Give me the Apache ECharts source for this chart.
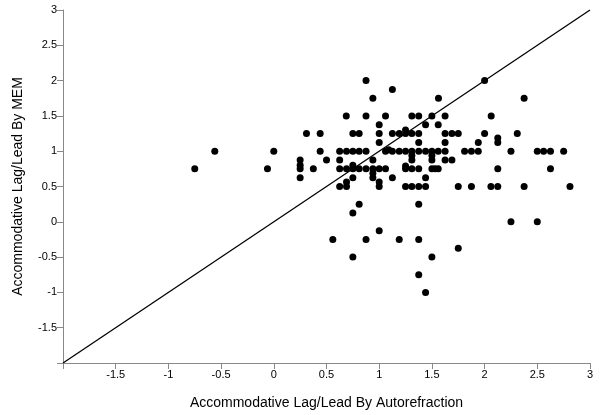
<!DOCTYPE html>
<html>
<head>
<meta charset="utf-8">
<title>Accommodative Lag/Lead</title>
<script src="https://cdn.jsdelivr.net/npm/echarts@6/dist/echarts.min.js"></script>
<style>
  html, body { margin: 0; padding: 0; background: #fff; }
  #main { width: 600px; height: 415px; }
</style>
</head>
<body>
<div id="main"></div>
<script>
// [autorefraction, MEM]
var points = [
  [0.875, 2], [2, 2],
  [1.125, 1.875],
  [0.94, 1.75], [1.5625, 1.75], [2.375, 1.75],
  [0.6875, 1.5], [0.875, 1.5], [1.06, 1.5], [1.31, 1.5], [1.375, 1.5], [1.5, 1.5], [1.625, 1.5], [2.0625, 1.5],
  [1, 1.375], [1.44, 1.375], [1.56, 1.375],
  [0.31, 1.25], [0.44, 1.25], [0.75, 1.25], [0.81, 1.25], [1, 1.25], [1.125, 1.25], [1.19, 1.25], [1.25, 1.25],
  [1.25, 1.3], [1.31, 1.25], [1.375, 1.25], [1.625, 1.25], [1.69, 1.25], [1.75, 1.25], [2, 1.25], [2.31, 1.25],
  [2.125, 1.1875],
  [1, 1.125], [1.375, 1.125], [1.625, 1.125], [1.94, 1.125], [2.125, 1.125],
  [-0.56, 1], [0, 1], [0.44, 1], [0.625, 1], [0.69, 1], [0.75, 1], [0.81, 1], [0.875, 1], [1.06, 1], [1.09, 1.02],
  [1.125, 1], [1.19, 1], [1.25, 1], [1.31, 1], [1.375, 1], [1.44, 1], [1.5, 1], [1.56, 1], [1.625, 1],
  [1.81, 1], [1.875, 1], [1.94, 1], [2.25, 1], [2.5, 1], [2.56, 1], [2.625, 1], [2.75, 1],
  [1.31, 0.9375], [1.5, 0.9375],
  [0.25, 0.875], [0.5, 0.875], [0.625, 0.875], [0.94, 0.875], [1.31, 0.875], [1.5, 0.875], [1.625, 0.875], [1.69, 0.875],
  [0.25, 0.8], [0.75, 0.8], [1.25, 0.79],
  [-0.75, 0.75], [-0.06, 0.75], [0.25, 0.75], [0.375, 0.75], [0.625, 0.75], [0.69, 0.75], [0.75, 0.75], [0.81, 0.75],
  [0.875, 0.75], [0.94, 0.75], [1, 0.75], [1.06, 0.75], [1.25, 0.75], [1.31, 0.75], [1.375, 0.75], [1.5, 0.75],
  [1.53, 0.75], [1.56, 0.75], [2.125, 0.75], [2.625, 0.75],
  [0.94, 0.6875],
  [0.25, 0.625], [0.75, 0.625], [0.94, 0.625], [1.125, 0.625], [1.44, 0.625],
  [1, 0.5625], [0.69, 0.5625],
  [0.625, 0.5], [0.69, 0.5], [1, 0.5], [1.25, 0.5], [1.31, 0.5], [1.375, 0.5], [1.44, 0.5], [1.75, 0.5],
  [1.875, 0.5], [2.06, 0.5], [2.125, 0.5], [2.375, 0.5], [2.81, 0.5],
  [0.81, 0.25], [1.375, 0.25],
  [0.75, 0.125],
  [2.25, 0], [2.5, 0],
  [1, -0.125],
  [0.56, -0.25], [0.875, -0.25], [1.19, -0.25], [1.375, -0.25],
  [1.75, -0.375],
  [0.75, -0.5], [1.5, -0.5],
  [1.375, -0.75],
  [1.44, -1]
];
var identityLine = [[-2, -2], [3, 3]];
var axisMin = -2;
var axisMax = 3;
var tickStep = 0.5;
var xTitle = 'Accommodative Lag/Lead By Autorefraction';
var yTitle = 'Accommodative Lag/Lead By MEM';

var myChart = echarts.init(document.getElementById('main'), null, { renderer: 'canvas' });

function tickLabel(v) {
  return v === axisMin ? '' : String(v);
}

var axisCommon = {
  type: 'value',
  min: axisMin,
  max: axisMax,
  interval: tickStep,
  nameLocation: 'middle',
  nameTextStyle: { fontFamily: 'Liberation Sans', fontSize: 14, color: '#000' },
  axisLine: { show: true, onZero: false, lineStyle: { color: '#888', width: 1 } },
  axisTick: { show: true, inside: false, length: 6, lineStyle: { color: '#888' } },
  axisLabel: { fontFamily: 'Liberation Sans', fontSize: 11, color: '#000', margin: 6, formatter: tickLabel },
  splitLine: { show: false }
};

option = {
  animation: false,
  backgroundColor: '#fff',
  grid: { left: 63, right: 10, top: 10, bottom: 52 },
  xAxis: Object.assign({}, axisCommon, { name: xTitle, nameGap: 33 }),
  yAxis: Object.assign({}, axisCommon, { name: yTitle, nameGap: 38 }),
  series: [
    {
      type: 'line',
      data: identityLine,
      symbol: 'none',
      lineStyle: { color: '#000', width: 1.3 },
      silent: true
    },
    {
      type: 'scatter',
      data: points,
      symbol: 'circle',
      symbolSize: 7,
      itemStyle: { color: '#000', opacity: 1 }
    }
  ]
};
myChart.setOption(option);
</script>
</body>
</html>
